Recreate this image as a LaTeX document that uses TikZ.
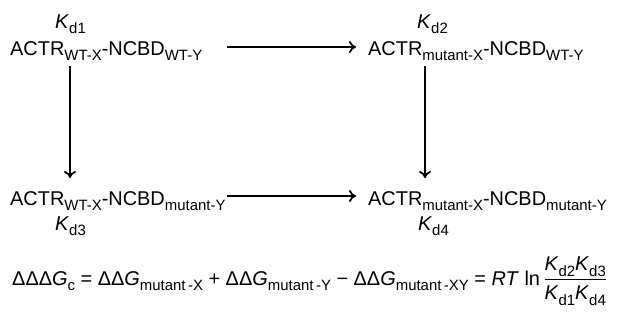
\documentclass[tikz,border=0pt]{standalone}
\usepackage{amsmath}
\usepackage{fontspec}
\setmainfont{Liberation Sans}
\usetikzlibrary{arrows.meta,calc}
\newcommand{\mysub}[1]{\raisebox{-0.3em}{\fontsize{15}{15}\selectfont #1}}
\newcommand{\Kd}[1]{\textit{K}\mysub{d#1}}
\begin{document}
\begin{tikzpicture}[x=1bp,y=-1bp,
  lbl/.style={inner sep=0pt, font=\fontsize{20}{24}\selectfont},
  arr/.style={line width=1.8bp, -{To[length=7bp,width=12bp,line width=1.8bp]}}]
\useasboundingbox (0,0) rectangle (617,322);
\node[lbl, anchor=base west] (TL) at (10,55) {ACTR\mysub{WT-X}-NCBD\mysub{WT-Y}};
\node[lbl, anchor=base west] (TR) at (368,55) {ACTR\mysub{mutant-X}-NCBD\mysub{WT-Y}};
\node[lbl, anchor=base west] (BL) at (10,205) {ACTR\mysub{WT-X}-NCBD\mysub{mutant-Y}};
\node[lbl, anchor=base west] (BR) at (368,205) {ACTR\mysub{mutant-X}-NCBD\mysub{mutant-Y}};
\node[lbl, anchor=base west] (K1) at (55,28) {\Kd{1}};
\node[lbl, anchor=base west] (K2) at (417,28) {\Kd{2}};
\node[lbl, anchor=base west] (K3) at (55,230) {\Kd{3}};
\node[lbl, anchor=base west] (K4) at (418,230) {\Kd{4}};
\coordinate (vl) at (70,0);
\coordinate (vr) at (425,0);
\draw[arr] ($(TL.base east)+(25,-8)$) -- ($(TR.base west)+(-12,-8)$);
\draw[arr] ($(BL.base east)+(1,-9)$) -- ($(BR.base west)+(-12,-9)$);
\draw[arr] (vl |- TL.south) ++(0,5) -- (vl |- 0,178);
\draw[arr] (vr |- TR.south) ++(0,5) -- (vr |- 0,178);
\node[lbl, anchor=base west] (EQ) at (12,285) {ΔΔΔ\textit{G}\mysub{c} = ΔΔ\textit{G}\mysub{mutant\,-X} + ΔΔ\textit{G}\mysub{mutant\,-Y} − ΔΔ\textit{G}\mysub{mutant\,-XY} = \textit{RT} ln\,$\dfrac{\mbox{\Kd{2}\Kd{3}}}{\mbox{\Kd{1}\Kd{4}}}$};
\end{tikzpicture}
\end{document}
